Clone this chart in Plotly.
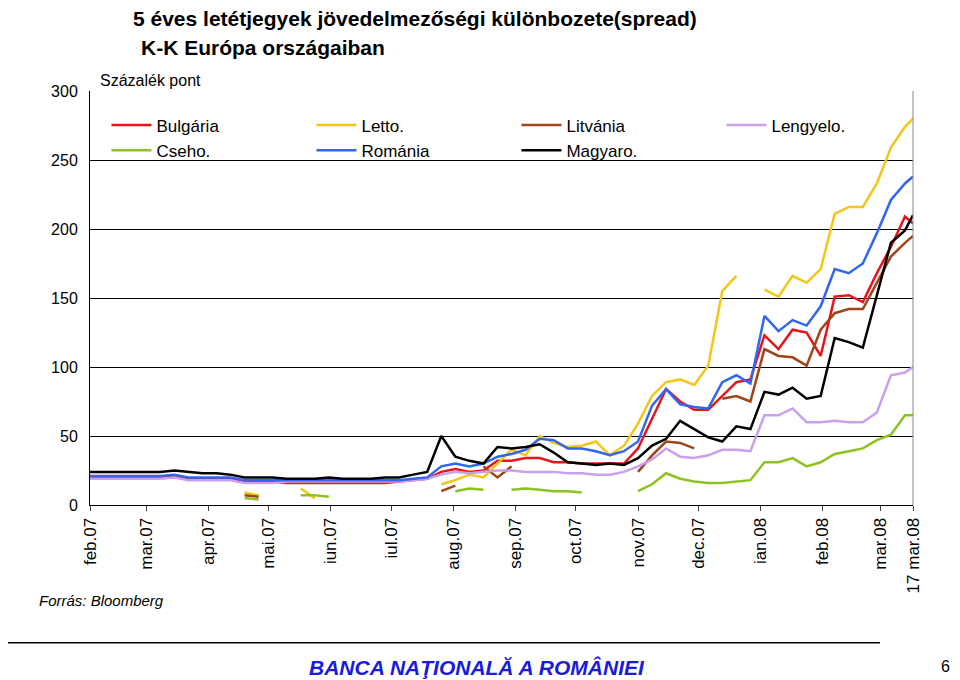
import datetime as dt
import plotly.graph_objects as go

N = None
# weekly dates from 1 Feb 2007, plus the last quote on 17 Mar 2008
dates = [dt.date(2007, 2, 1) + dt.timedelta(days=7 * k) for k in range(59)] + [dt.date(2008, 3, 17)]

bulgaria = [20, 20, 20, 20, 20, 20, 21, 19, 19, 19, 19, 17, 17, 17, 16, 16, 16, 16, 16, 16,
            16, 16, 17, 18, 19, 24, 26, 24, 25, 32, 32, 34, 34, 31, 31, 30, 30, 30, 30, 41,
            63, 84, 75, 69, 69, 79, 89, 91, 123, 113, 127, 125, 108, 151, 152, 147, 168, 187, 209, 204]
letto = [N, N, N, N, N, N, N, N, N, N, N, 9, 7, N, N, 12, 5, N, N, N,
         N, N, N, N, N, 15, 18, 22, 20, 30, 40, 36, 50, 45, 42, 43, 46, 36, 43, 59,
         79, 89, 91, 87, 101, 155, 166, N, 156, 151, 166, 161, 171, 211, 216, 216, 233, 259, 274, 280]
litvania = [N, N, N, N, N, N, N, N, N, N, N, 7, 6, N, N, N, N, N, N, N,
            N, N, N, N, N, 10, 14, N, 28, 20, 28, N, N, 24, N, N, N, N, N, 24,
            36, 46, 45, 41, N, 77, 79, 75, 113, 108, 107, 101, 127, 139, 142, 142, 161, 180, 190, 195]
lengyelo = [19, 19, 19, 19, 19, 19, 20, 18, 18, 18, 18, 16, 16, 16, 17, 17, 17, 17, 17, 17,
            17, 17, 17, 18, 19, 22, 24, 23, 24, 25, 25, 24, 24, 24, 23, 23, 22, 22, 24, 28,
            33, 41, 35, 34, 36, 40, 40, 39, 65, 65, 70, 60, 60, 61, 60, 60, 67, 94, 96, 100]
cseho = [N, N, N, N, N, N, N, N, N, N, N, 5, 4, N, N, 7, 7, 6, N, N,
         N, N, N, N, N, N, 10, 12, 11, N, 11, 12, 11, 10, 10, 9, N, 7, N, 10,
         15, 23, 19, 17, 16, 16, 17, 18, 31, 31, 34, 28, 31, 37, 39, 41, 47, 51, 65, 65]
romania = [21, 21, 21, 21, 21, 21, 22, 20, 20, 20, 20, 18, 18, 18, 18, 18, 18, 18, 18, 18,
           18, 18, 18, 19, 20, 28, 30, 28, 30, 35, 37, 40, 48, 47, 41, 41, 39, 36, 39, 46,
           72, 84, 73, 71, 70, 89, 94, 88, 137, 126, 134, 130, 144, 171, 168, 175, 197, 221, 233, 238]
magyaro = [24, 24, 24, 24, 24, 24, 25, 24, 23, 23, 22, 20, 20, 20, 19, 19, 19, 20, 19, 19,
           19, 20, 20, 22, 24, 50, 35, 32, 30, 42, 41, 42, 44, 38, 31, 30, 29, 30, 29, 34,
           43, 48, 61, 55, 49, 46, 57, 55, 82, 80, 85, 77, 79, 121, 118, 114, 152, 190, 199, 210]

series = [("Bulgária", bulgaria, "#e8141b"), ("Letto.", letto, "#f5c518"),
          ("Litvánia", litvania, "#a0441a"), ("Lengyelo.", lengyelo, "#c9a0ec"),
          ("Cseho.", cseho, "#8dc21f"), ("Románia", romania, "#3366ee"),
          ("Magyaro.", magyaro, "#000000")]

tick_dates = [dt.date(2007, m, 1) for m in range(2, 13)] + [dt.date(2008, 1, 1), dt.date(2008, 2, 1),
                                                           dt.date(2008, 3, 1), dt.date(2008, 3, 17)]
tick_text = ["feb.07", "mar.07", "apr.07", "mai.07", "iun.07", "iul.07", "aug.07", "sep.07",
             "oct.07", "nov.07", "dec.07", "ian.08", "feb.08", "mar.08", "17 mar.08"]

fig = go.Figure()
for name, vals, col in series:
    fig.add_trace(go.Scatter(x=dates, y=vals, name=name, mode="lines",
                             line=dict(color=col, width=2.5), connectgaps=False))

fig.update_layout(
    width=960, height=680, plot_bgcolor="white", paper_bgcolor="white",
    margin=dict(l=82, r=55, t=83, b=183),
    font=dict(family="Liberation Sans, Arial", size=15, color="black"),
    legend=dict(orientation="h", x=0.02, y=0.96, xanchor="left", yanchor="top",
                entrywidth=150, bgcolor="rgba(0,0,0,0)", font=dict(size=17),
                itemwidth=40, traceorder="normal"),
)
fig.update_xaxes(type="date", range=[dt.date(2007, 2, 1), dt.date(2008, 3, 17)],
                 tickmode="array", tickvals=tick_dates, ticktext=tick_text, tickangle=-90,
                 showgrid=False, showline=True, linecolor="black", ticks="outside",
                 ticklen=5, tickfont=dict(size=17), mirror=False)
fig.update_yaxes(range=[0, 300], dtick=50, showgrid=True, gridcolor="black", gridwidth=1,
                 showline=True, linecolor="black", tickfont=dict(size=16), zeroline=False,
                 ticks="outside", ticklen=8, tickcolor="white")
fig.add_shape(type="line", xref="paper", yref="paper", x0=1, x1=1, y0=0, y1=1,
              line=dict(color="#888888", width=1))

fig.add_annotation(text="<b>5 éves letétjegyek jövedelmezőségi különbozete(spread)</b>",
                   xref="paper", yref="paper", x=0.05, y=1.142, xanchor="left", yanchor="bottom",
                   showarrow=False, font=dict(size=21))
fig.add_annotation(text="<b>K-K Európa országaiban</b>", xref="paper", yref="paper",
                   x=0.06, y=1.072, xanchor="left", yanchor="bottom", showarrow=False,
                   font=dict(size=21))
fig.add_annotation(text="Százalék pont", xref="paper", yref="paper", x=0.01, y=1.0,
                   xanchor="left", yanchor="bottom", showarrow=False, font=dict(size=16))
fig.add_annotation(text="<i>Forrás: Bloomberg</i>", xref="paper", yref="paper", x=-0.065, y=-0.23,
                   xanchor="left", yanchor="middle", showarrow=False, font=dict(size=15))
fig.add_shape(type="line", xref="paper", yref="paper", x0=-0.1, x1=0.96, y0=-0.333, y1=-0.333,
              line=dict(color="black", width=1.5))
fig.add_annotation(text="<b><i>BANCA NAŢIONALĂ A ROMÂNIEI</i></b>", xref="paper", yref="paper",
                   x=0.47, y=-0.393, xanchor="center", yanchor="middle", showarrow=False,
                   font=dict(size=21, color="#1a1adc"))
fig.add_annotation(text="6", xref="paper", yref="paper", x=1.04, y=-0.39,
                   xanchor="center", yanchor="middle", showarrow=False, font=dict(size=16))

fig.write_html("out.html")
